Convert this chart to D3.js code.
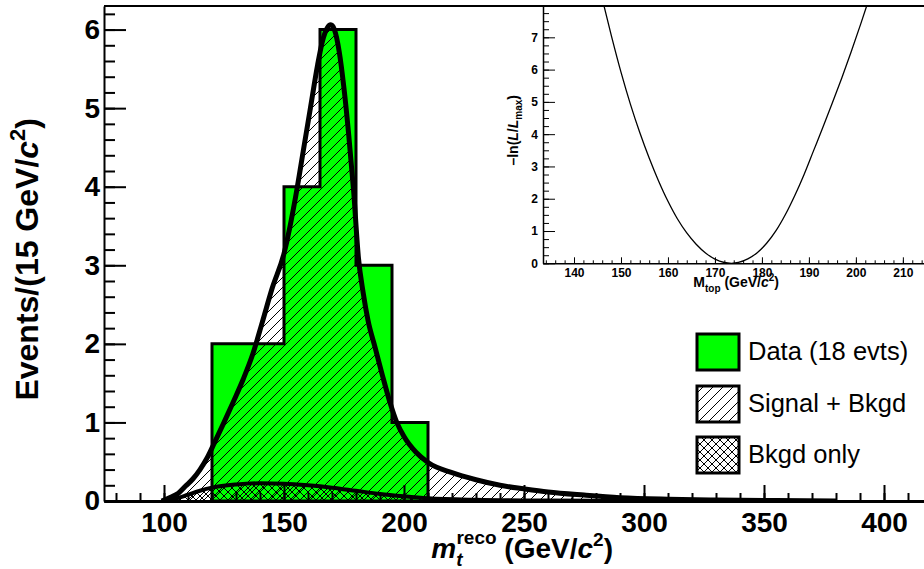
<!DOCTYPE html>
<html>
<head>
<meta charset="utf-8">
<script src="https://cdn.jsdelivr.net/npm/d3@7"></script>
<style>
  body { margin: 0; background: #fff; }
  svg { display: block; font-family: "Liberation Sans", Arial, sans-serif; }
</style>
</head>
<body>
<svg id="chart" width="924" height="569"></svg>
<script>
// histogram: bin edges and counts (18 events)
const binEdges = [120, 135, 150, 165, 180, 195, 210];
const binCounts = [2, 2, 4, 6, 3, 1];

// signal + background fit curve
const sigBkgX = [99, 103, 106, 109, 112, 115, 118, 121, 125, 129, 133, 137, 141, 145, 150, 155, 158, 161, 164, 166, 168, 169.5, 171, 173, 175, 177, 179, 181, 183, 185, 188, 191, 194, 197, 200, 205, 210, 220, 230, 240, 250, 260, 275, 290, 310, 330, 355, 380];
const sigBkgY = [0, 0.05, 0.1, 0.19, 0.28, 0.4, 0.55, 0.74, 1.0, 1.27, 1.55, 1.87, 2.28, 2.7, 3.15, 3.9, 4.45, 5.0, 5.55, 5.85, 6.02, 6.06, 6.0, 5.72, 5.25, 4.65, 3.95, 3.1, 2.65, 2.3, 1.95, 1.6, 1.27, 1.0, 0.82, 0.62, 0.49, 0.36, 0.27, 0.2, 0.155, 0.115, 0.075, 0.042, 0.022, 0.012, 0.005, 0];

// background only curve
const bkgX = [99, 105, 110, 115, 120, 130, 140, 150, 160, 170, 180, 190, 200, 210, 230, 260, 300, 380];
const bkgY = [0, 0.03, 0.08, 0.13, 0.17, 0.21, 0.225, 0.22, 0.2, 0.17, 0.13, 0.09, 0.06, 0.035, 0.015, 0.005, 0.001, 0];

// inset: -ln(L/Lmax) vs Mtop
const nllX = [144, 146, 148, 150, 152, 154, 156, 158, 160, 162, 164, 166, 168, 170, 172, 173.5, 175, 177, 179, 181, 183, 185, 187, 189, 191, 193, 195, 197, 199, 201, 203, 205];
const nllY = [9.45, 8.2, 7.02, 5.92, 4.93, 4.05, 3.26, 2.55, 1.92, 1.38, 0.94, 0.59, 0.32, 0.13, 0.025, 0, 0.025, 0.135, 0.33, 0.62, 1.01, 1.51, 2.1, 2.76, 3.49, 4.22, 4.97, 5.74, 6.55, 7.4, 8.28, 9.2];

const xMajor = [100, 150, 200, 250, 300, 350, 400];
const yMajor = [0, 1, 2, 3, 4, 5, 6];
const insetXMajor = [140, 150, 160, 170, 180, 190, 200, 210];
const insetYMajor = [0, 1, 2, 3, 4, 5, 6, 7];

const legendLabels = ["Data (18 evts)", "Signal + Bkgd", "Bkgd only"];

const svg = d3.select("#chart");
svg.append("rect").attr("width", 924).attr("height", 569).attr("fill", "#fff");

// patterns
const defs = svg.append("defs");
const hatch = defs.append("pattern").attr("id", "hatch")
    .attr("patternUnits", "userSpaceOnUse").attr("width", 10).attr("height", 10);
hatch.append("path").attr("d", "M-1,1 l2,-2 M0,10 l10,-10 M9,11 l2,-2")
    .attr("stroke", "#000").attr("stroke-width", 1);
const cross = defs.append("pattern").attr("id", "cross")
    .attr("patternUnits", "userSpaceOnUse").attr("width", 8).attr("height", 8);
cross.append("path").attr("d", "M-1,1 l2,-2 M0,8 l8,-8 M7,9 l2,-2 M-1,7 l2,2 M0,0 l8,8 M7,-1 l2,2")
    .attr("stroke", "#000").attr("stroke-width", 1);

// main plot scales
const x = d3.scaleLinear().domain([75, 420]).range([104, 932]);
const y = d3.scaleLinear().domain([0, 6.3]).range([501, 6]);

defs.append("clipPath").attr("id", "mainClip")
    .append("rect").attr("x", 104).attr("y", 6).attr("width", 820).attr("height", 495);

const plot = svg.append("g").attr("clip-path", "url(#mainClip)");

// histogram points for step drawing
const histPts = binEdges.map((e, i) => [e, binCounts[Math.min(i, binCounts.length - 1)]]);
const histArea = d3.area().x(d => x(d[0])).y0(y(0)).y1(d => y(d[1])).curve(d3.curveStepAfter);

plot.append("path").attr("d", histArea(histPts)).attr("fill", "#00ff00");

const sigPts = sigBkgX.map((v, i) => [v, sigBkgY[i]]);
const bkgPts = bkgX.map((v, i) => [v, bkgY[i]]);
const fArea = d3.area().x(d => x(d[0])).y0(y(0)).y1(d => y(d[1])).curve(d3.curveMonotoneX);
const fLine = d3.line().x(d => x(d[0])).y(d => y(d[1])).curve(d3.curveMonotoneX);

plot.append("path").attr("d", fArea(sigPts)).attr("fill", "url(#hatch)");
plot.append("path").attr("d", fArea(bkgPts)).attr("fill", "url(#cross)");

plot.append("path").attr("d", histArea(histPts))
    .attr("fill", "none").attr("stroke", "#000").attr("stroke-width", 3);

plot.append("path").attr("d", fLine(bkgPts))
    .attr("fill", "none").attr("stroke", "#000").attr("stroke-width", 4);
plot.append("path").attr("d", fLine(sigPts))
    .attr("fill", "none").attr("stroke", "#000").attr("stroke-width", 5);

// frame top
svg.append("line").attr("x1", 104).attr("x2", 924).attr("y1", 6).attr("y2", 6)
    .attr("stroke", "#000").attr("stroke-width", 2);

// x axis
const xMinor = d3.range(80, 421, 10);
svg.append("g").attr("transform", "translate(0,501)")
    .call(d3.axisBottom(x).tickValues(xMinor).tickSize(-8).tickFormat(""))
    .call(g => g.select(".domain").remove())
    .selectAll("line").attr("stroke-width", 2);
const xAxis = svg.append("g").attr("transform", "translate(0,501)")
    .call(d3.axisBottom(x).tickValues(xMajor).tickSize(-16).tickPadding(11)
        .tickFormat(d3.format("d")).tickSizeOuter(0));
xAxis.select(".domain").attr("stroke-width", 3);
xAxis.selectAll("line").attr("stroke-width", 2);
xAxis.selectAll("text").attr("font-size", 28).attr("font-weight", "bold")
    .attr("font-family", "Liberation Sans, Arial, sans-serif");

// y axis
const yMinor = d3.range(0, 6.3, 0.2);
svg.append("g").attr("transform", "translate(104,0)")
    .call(d3.axisLeft(y).tickValues(yMinor).tickSize(-11).tickFormat(""))
    .call(g => g.select(".domain").remove())
    .selectAll("line").attr("stroke-width", 2);
const yAxis = svg.append("g").attr("transform", "translate(104,0)")
    .call(d3.axisLeft(y).tickValues(yMajor).tickSize(-22).tickPadding(4)
        .tickFormat(d3.format("d")).tickSizeOuter(0));
yAxis.select(".domain").attr("stroke-width", 2);
yAxis.selectAll("line").attr("stroke-width", 2);
yAxis.selectAll("text").attr("font-size", 28).attr("font-weight", "bold")
    .attr("font-family", "Liberation Sans, Arial, sans-serif");

// axis titles
const yTitle = svg.append("text")
    .attr("transform", "translate(38,118) rotate(-90)")
    .attr("text-anchor", "end").attr("font-size", 32).attr("font-weight", "bold");
yTitle.append("tspan").text("Events/(15 GeV/");
yTitle.append("tspan").attr("font-style", "italic").text("c");
yTitle.append("tspan").attr("font-size", 22).attr("dy", -13).text("2");
yTitle.append("tspan").attr("dy", 13).text(")");

const xTitle = svg.append("text").attr("x", 613).attr("y", 558)
    .attr("text-anchor", "end").attr("font-size", 28).attr("font-weight", "bold");
xTitle.append("tspan").attr("font-style", "italic").text("m");
xTitle.append("tspan").attr("font-style", "italic").attr("font-size", 19).attr("dy", 8).text("t");
xTitle.append("tspan").attr("font-size", 19).attr("dx", -6).attr("dy", -22).text("reco");
xTitle.append("tspan").attr("dy", 14).text(" (GeV/");
xTitle.append("tspan").attr("font-style", "italic").text("c");
xTitle.append("tspan").attr("font-size", 19).attr("dy", -12).text("2");
xTitle.append("tspan").attr("dy", 12).text(")");

// legend
const legend = svg.append("g");
const legFills = ["#00ff00", "url(#hatch)", "url(#cross)"];
const legTop = [334, 386, 437];
legendLabels.forEach((lab, i) => {
    legend.append("rect").attr("x", 697).attr("y", legTop[i]).attr("width", 42).attr("height", 36)
        .attr("fill", "#fff").attr("stroke", "none");
    legend.append("rect").attr("x", 697).attr("y", legTop[i]).attr("width", 42).attr("height", 36)
        .attr("fill", legFills[i]).attr("stroke", "#000").attr("stroke-width", 3);
    legend.append("text").attr("x", 748).attr("y", legTop[i] + 26)
        .attr("font-size", 25.5).text(lab);
});

// inset
const ix = d3.scaleLinear().domain([133.4, 214.5]).range([543, 924]);
const iy = d3.scaleLinear().domain([0, 7.97]).range([263.3, 6]);

svg.append("rect").attr("x", 543).attr("y", 6).attr("width", 381).attr("height", 257.3).attr("fill", "#fff");
defs.append("clipPath").attr("id", "insetClip")
    .append("rect").attr("x", 543).attr("y", 6).attr("width", 381).attr("height", 257.3);

const nllPts = nllX.map((v, i) => [v, nllY[i]]);
svg.append("g").attr("clip-path", "url(#insetClip)")
    .append("path")
    .attr("d", d3.line().x(d => ix(d[0])).y(d => iy(d[1])).curve(d3.curveCatmullRom)(nllPts))
    .attr("fill", "none").attr("stroke", "#000").attr("stroke-width", 1.3);

svg.append("line").attr("x1", 543).attr("x2", 924).attr("y1", 6).attr("y2", 6)
    .attr("stroke", "#000").attr("stroke-width", 2);

svg.append("g").attr("transform", "translate(0,263.3)")
    .call(d3.axisBottom(ix).tickValues(d3.range(134, 215, 2)).tickSize(-3).tickFormat(""))
    .call(g => g.select(".domain").remove());
const ixAxis = svg.append("g").attr("transform", "translate(0,263.3)")
    .call(d3.axisBottom(ix).tickValues(insetXMajor).tickSize(-6).tickPadding(5)
        .tickFormat(d3.format("d")).tickSizeOuter(0));
ixAxis.select(".domain").attr("stroke-width", 1.5);
ixAxis.selectAll("text").attr("font-size", 12).attr("font-weight", "bold")
    .attr("font-family", "Liberation Sans, Arial, sans-serif");

svg.append("g").attr("transform", "translate(543,0)")
    .call(d3.axisLeft(iy).tickValues(d3.range(0, 7.97, 0.25)).tickSize(-6).tickFormat(""))
    .call(g => g.select(".domain").remove());
const iyAxis = svg.append("g").attr("transform", "translate(543,0)")
    .call(d3.axisLeft(iy).tickValues(insetYMajor).tickSize(-12).tickPadding(5)
        .tickFormat(d3.format("d")).tickSizeOuter(0));
iyAxis.select(".domain").attr("stroke-width", 1.5);
iyAxis.selectAll("text").attr("font-size", 12).attr("font-weight", "bold")
    .attr("font-family", "Liberation Sans, Arial, sans-serif");

const ixTitle = svg.append("text").attr("x", 779).attr("y", 287)
    .attr("text-anchor", "end").attr("font-size", 14).attr("font-weight", "bold");
ixTitle.append("tspan").text("M");
ixTitle.append("tspan").attr("font-size", 10).attr("dy", 5).text("top");
ixTitle.append("tspan").attr("dy", -5).text(" (GeV/");
ixTitle.append("tspan").attr("font-style", "italic").text("c");
ixTitle.append("tspan").attr("font-size", 10).attr("dy", -6).text("2");
ixTitle.append("tspan").attr("dy", 6).text(")");

const iyTitle = svg.append("text").attr("transform", "translate(518,95) rotate(-90)")
    .attr("text-anchor", "end").attr("font-size", 14).attr("font-weight", "bold");
iyTitle.append("tspan").text("\u2013ln(");
iyTitle.append("tspan").attr("font-style", "italic").text("L");
iyTitle.append("tspan").text("/");
iyTitle.append("tspan").attr("font-style", "italic").text("L");
iyTitle.append("tspan").attr("font-size", 10).attr("dy", 4).text("max");
iyTitle.append("tspan").attr("dy", -4).text(")");
</script>
</body>
</html>
